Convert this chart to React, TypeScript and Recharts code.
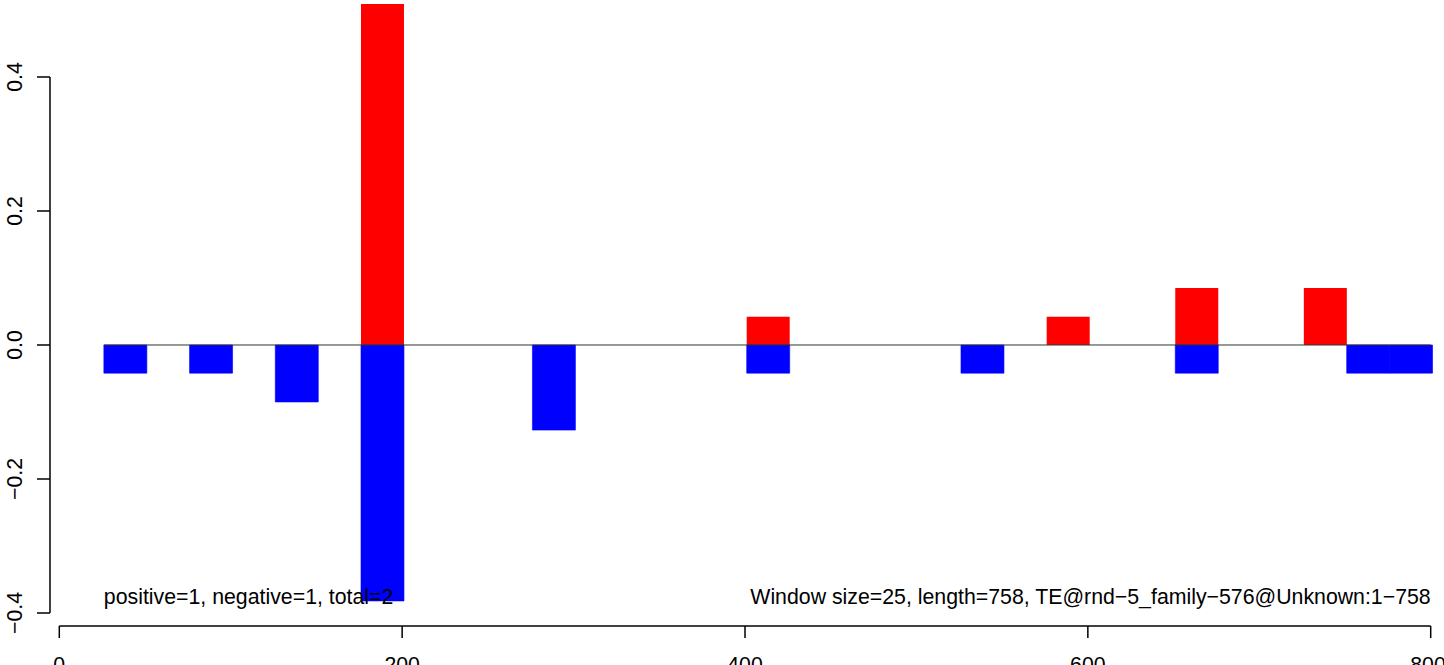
import { ComposedChart, Bar, XAxis, YAxis, ReferenceLine, ReferenceDot } from 'recharts';

const binStarts = [0, 25, 50, 75, 100, 125, 150, 175, 200, 225, 250, 275, 300, 325, 350, 375, 400, 425, 450, 475, 500, 525, 550, 575, 600, 625, 650, 675, 700, 725, 750, 775];
const positive = [0, 0, 0, 0, 0, 0, 0, 0.509, 0, 0, 0, 0, 0, 0, 0, 0, 0.042, 0, 0, 0, 0, 0, 0, 0.042, 0, 0, 0.085, 0, 0, 0.085, 0, 0];
const negative = [0, -0.042, 0, -0.042, 0, -0.085, 0, -0.382, 0, 0, 0, -0.127, 0, 0, 0, 0, -0.042, 0, 0, 0, 0, -0.042, 0, 0, 0, 0, -0.042, 0, 0, 0, -0.042, -0.042];

const xTicks = [0, 200, 400, 600, 800];
const yTicks = [-0.4, -0.2, 0, 0.2, 0.4];
const leftNote = 'positive=1, negative=1, total=2';
const rightNote = 'Window size=25, length=758, TE@rnd\u22125_family\u2212576@Unknown:1\u2212758';

const data = binStarts.map((start, i) => ({
  start,
  bin: String(start),
  pos: positive[i] || null,
  neg: negative[i] || null,
}));

const FONT = '"Liberation Sans", Arial, Helvetica, sans-serif';
const FS = 21.3;
// numeric axis: 0 sits at 59.3px, 800 at 1430.7px
const PAD = { left: 9.3, right: 13.3 };
// bins are 1-based (26..50 etc.), so they sit one unit to the right
const BIN_PAD = { left: 11.0, right: 11.6 };

const YTick = ({ x, y, payload }: any) => {
  const tx = x - 13;
  const label = payload.value.toFixed(1).replace('-', '\u2212');
  return (
    <text x={tx} y={y} transform={`rotate(-90, ${tx}, ${y})`} textAnchor="middle" fontSize={FS} fontFamily={FONT} fill="#000">
      {label}
    </text>
  );
};

const note = (text: string, anchor: 'start' | 'end') => (p: any) => (
  <text x={p.cx} y={p.cy} dy="0.36em" textAnchor={anchor} fontSize={FS} fontFamily={FONT} fill="#000">
    {text}
  </text>
);

export default function App() {
  return (
    <div style={{ position: 'absolute', left: 0, top: 0, width: 1444, height: 665, background: '#fff' }}>
      <ComposedChart width={1444} height={665} data={data} margin={{ top: 0, right: 0, bottom: 0, left: 0 }} stackOffset="sign" barCategoryGap={0} barGap={0}>
        <XAxis xAxisId="bins" dataKey="bin" type="category" hide height={0} orientation="top" padding={BIN_PAD} />
        <XAxis
          xAxisId="num"
          dataKey="start"
          type="number"
          domain={[0, 800]}
          allowDataOverflow
          ticks={xTicks}
          padding={PAD}
          height={39}
          axisLine={false}
          tickLine={{ stroke: '#000', strokeWidth: 1.5 }}
          tickSize={12}
          tickMargin={19}
          tick={{ fontSize: FS, fontFamily: FONT, fill: '#000' }}
        />
        <YAxis
          type="number"
          domain={[-0.4194, 0.5149]}
          allowDataOverflow
          ticks={yTicks}
          width={50}
          axisLine={false}
          tickLine={{ stroke: '#000', strokeWidth: 1.5 }}
          tickSize={13}
          tick={<YTick />}
        />
        <ReferenceLine xAxisId="num" segment={[{ x: 26, y: 0 }, { x: 800, y: 0 }]} stroke="#333" strokeWidth={1} ifOverflow="visible" />
        <Bar xAxisId="bins" dataKey="pos" stackId="s" fill="#ff0000" isAnimationActive={false} />
        <Bar xAxisId="bins" dataKey="neg" stackId="s" fill="#0000ff" stroke="#0000ff" strokeWidth={0.6} isAnimationActive={false} />
        <ReferenceLine xAxisId="num" segment={[{ x: 0, y: -0.4194 }, { x: 800, y: -0.4194 }]} stroke="#000" strokeWidth={1.5} ifOverflow="visible" />
        <ReferenceLine xAxisId="num" segment={[{ x: -5.43, y: -0.4 }, { x: -5.43, y: 0.4 }]} stroke="#000" strokeWidth={1.5} ifOverflow="visible" />
        <ReferenceDot xAxisId="num" x={26} y={-0.375} r={0} ifOverflow="visible" shape={note(leftNote, 'start')} />
        <ReferenceDot xAxisId="num" x={800} y={-0.375} r={0} ifOverflow="visible" shape={note(rightNote, 'end')} />
      </ComposedChart>
    </div>
  );
}
